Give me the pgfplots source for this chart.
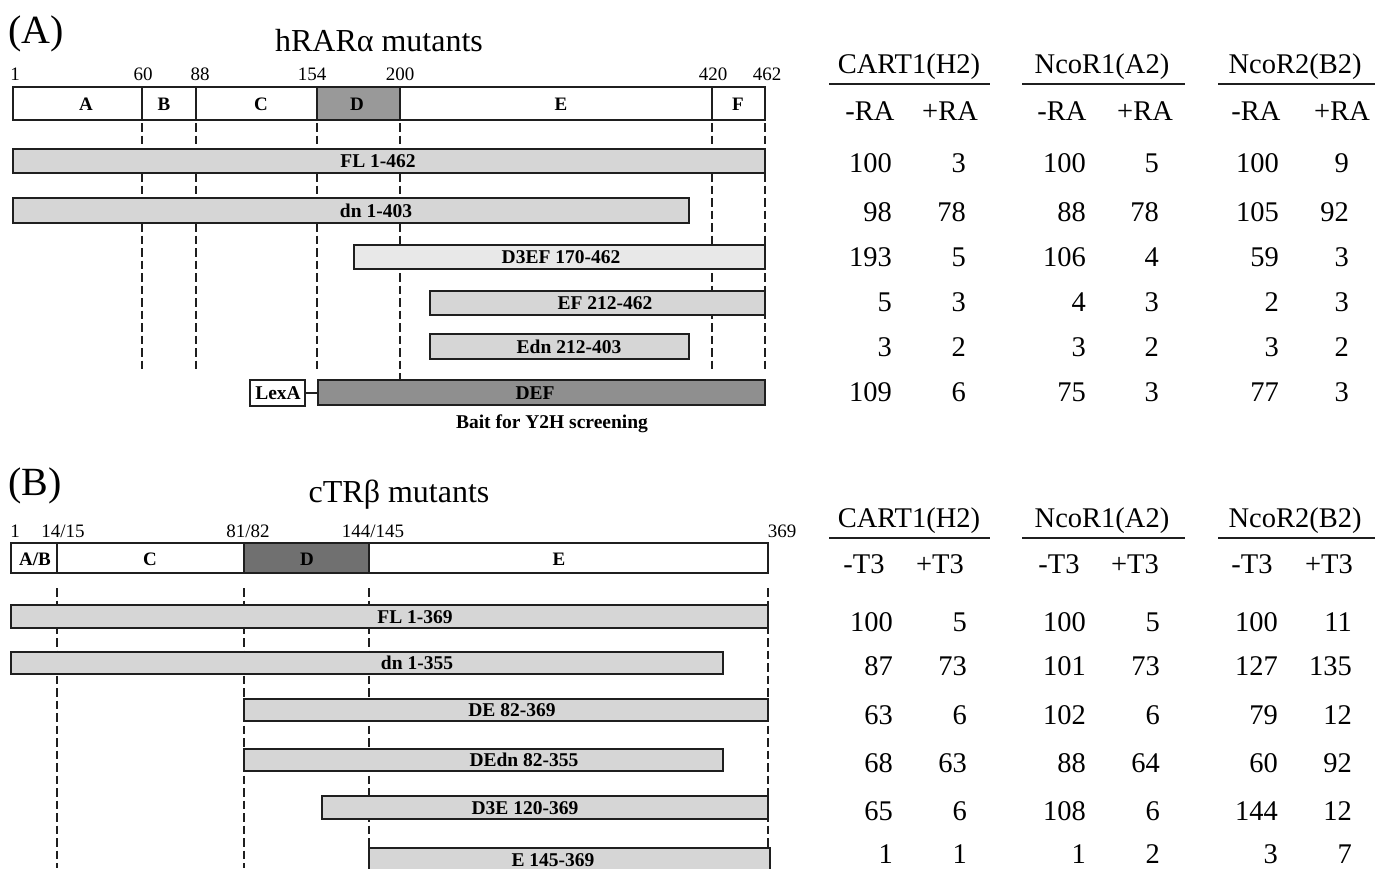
\documentclass[border=0pt]{standalone}
\usepackage{pgfplots}
\usepackage{pgfplotstable}
\pgfplotsset{compat=1.18}
\usepackage{fontspec}
\setmainfont{Liberation Serif}
\newcommand{\fs}[1]{\fontsize{#1}{#1}\selectfont}
\definecolor{edge}{gray}{0.12}
\definecolor{barlight}{gray}{0.84}
\definecolor{barlighter}{gray}{0.91}
\definecolor{dmid}{gray}{0.60}
\definecolor{ddef}{gray}{0.56}
\definecolor{ddark}{gray}{0.44}

\pgfplotstableread{
y c1 c2 c3 c4 c5 c6
172 100 3 100 5 100 9
221 98 78 88 78 105 92
266 193 5 106 4 59 3
311 5 3 4 3 2 3
356 3 2 3 2 3 2
401 109 6 75 3 77 3
}\tabA

\pgfplotstableread{
y c1 c2 c3 c4 c5 c6
631 100 5 100 5 100 11
675 87 73 101 73 127 135
724 63 6 102 6 79 12
772 68 63 88 64 60 92
820 65 6 108 6 144 12
863 1 1 1 2 3 7
}\tabB

\pgfplotsset{
  pbar/.style={draw=edge, line width=2.2pt, line join=miter},
  dsh/.style={draw=edge, line width=1.9pt, dash pattern=on 8.5pt off 4pt},
  numcol/.style={only marks, mark=none,
    point meta=explicit symbolic, nodes near coords,
    nodes near coords style={anchor=base east, inner sep=0pt, font=\fs{28.5}, text=black}},
}

\begin{document}
\begin{tikzpicture}
\path[use as bounding box] (0,0) rectangle (1375pt,868pt);
\clip (0,0) rectangle (1375pt,868pt);
\begin{axis}[at={(0pt,0pt)}, anchor=south west, width=1375pt, height=868pt,
  scale only axis, xmin=0, xmax=1375, ymin=0, ymax=868, y dir=reverse,
  hide axis, clip=false]

% ---------------- Panel A ----------------
\node[anchor=base west, inner sep=0pt, font=\fs{40}] at (axis cs:8,43) {(A)};
\node[anchor=base, inner sep=0pt, font=\fs{32}] at (axis cs:379,51) {hRARα mutants};

% position labels
\foreach \px/\lab in {15/1, 143/60, 200/88, 312/154, 400/200, 713/420, 767/462}
  {\edef\tmp{\noexpand\node[anchor=base, inner sep=0pt, font=\noexpand\fs{19}] at (axis cs:\px,80) {\lab};}\tmp}

% dashed guide lines
\addplot[dsh] coordinates {(142,123) (142,370)};
\addplot[dsh] coordinates {(196,123) (196,370)};
\addplot[dsh] coordinates {(317,123) (317,370)};
\addplot[dsh] coordinates {(400,123) (400,380)};
\addplot[dsh] coordinates {(712,123) (712,370)};
\addplot[dsh] coordinates {(765,123) (765,370)};

% domain map
\addplot[pbar, fill=white] coordinates {(13,87) (142,87) (142,120) (13,120)} -- cycle;
\addplot[pbar, fill=white] coordinates {(142,87) (196,87) (196,120) (142,120)} -- cycle;
\addplot[pbar, fill=white] coordinates {(196,87) (317,87) (317,120) (196,120)} -- cycle;
\addplot[pbar, fill=dmid]  coordinates {(317,87) (400,87) (400,120) (317,120)} -- cycle;
\addplot[pbar, fill=white] coordinates {(400,87) (712,87) (712,120) (400,120)} -- cycle;
\addplot[pbar, fill=white] coordinates {(712,87) (765,87) (765,120) (712,120)} -- cycle;
\foreach \px/\lab in {86/A, 164/B, 261/C, 357/D, 561/E, 738/F}
  {\edef\tmp{\noexpand\node[anchor=base, inner sep=0pt, font=\noexpand\fs{19}\noexpand\bfseries] at (axis cs:\px,110) {\lab};}\tmp}

% mutant bars
\addplot[pbar, fill=barlight] coordinates {(13,149) (765,149) (765,173) (13,173)} -- cycle;
\addplot[pbar, fill=barlight] coordinates {(13,198) (689,198) (689,223) (13,223)} -- cycle;
\addplot[pbar, fill=barlighter] coordinates {(354,245) (765,245) (765,269) (354,269)} -- cycle;
\addplot[pbar, fill=barlight] coordinates {(430,291) (765,291) (765,315) (430,315)} -- cycle;
\addplot[pbar, fill=barlight] coordinates {(430,334) (689,334) (689,359) (430,359)} -- cycle;
\addplot[pbar, fill=white] coordinates {(250,380) (305,380) (305,406) (250,406)} -- cycle;
\addplot[draw=edge, line width=2.2pt] coordinates {(305,393) (318,393)};
\addplot[pbar, fill=ddef] coordinates {(318,380) (765,380) (765,405) (318,405)} -- cycle;

\node[anchor=base, inner sep=0pt, font=\fs{19.5}\bfseries] at (axis cs:378,167.5) {FL 1-462};
\node[anchor=base, inner sep=0pt, font=\fs{19.5}\bfseries] at (axis cs:376,217) {dn 1-403};
\node[anchor=base, inner sep=0pt, font=\fs{19.5}\bfseries] at (axis cs:561,263.5) {D3EF 170-462};
\node[anchor=base, inner sep=0pt, font=\fs{19.5}\bfseries] at (axis cs:605,309.5) {EF 212-462};
\node[anchor=base, inner sep=0pt, font=\fs{19.5}\bfseries] at (axis cs:569,353) {Edn 212-403};
\node[anchor=base, inner sep=0pt, font=\fs{19.5}\bfseries] at (axis cs:278,399.5) {LexA};
\node[anchor=base, inner sep=0pt, font=\fs{19.5}\bfseries] at (axis cs:535,399) {DEF};
\node[anchor=base, inner sep=0pt, font=\fs{19.5}\bfseries] at (axis cs:552,428) {Bait for Y2H screening};

% table A
\node[anchor=base, inner sep=0pt, font=\fs{28.5}] at (axis cs:909,73) {CART1(H2)};
\node[anchor=base, inner sep=0pt, font=\fs{28.5}] at (axis cs:1102,73) {NcoR1(A2)};
\node[anchor=base, inner sep=0pt, font=\fs{28.5}] at (axis cs:1295,73) {NcoR2(B2)};
\addplot[draw=edge, line width=2.2pt] coordinates {(829,84) (990,84)};
\addplot[draw=edge, line width=2.2pt] coordinates {(1022,84) (1185,84)};
\addplot[draw=edge, line width=2.2pt] coordinates {(1218,84) (1375,84)};
\foreach \px/\lab in {870/-RA, 950/+RA, 1062/-RA, 1145/+RA, 1256/-RA, 1342/+RA}
  {\edef\tmp{\noexpand\node[anchor=base, inner sep=0pt, font=\noexpand\fs{28.5}] at (axis cs:\px,120) {\lab};}\tmp}

\addplot[numcol] table[x expr=892, y=y, meta=c1] {\tabA};
\addplot[numcol] table[x expr=966, y=y, meta=c2] {\tabA};
\addplot[numcol] table[x expr=1086, y=y, meta=c3] {\tabA};
\addplot[numcol] table[x expr=1159, y=y, meta=c4] {\tabA};
\addplot[numcol] table[x expr=1279, y=y, meta=c5] {\tabA};
\addplot[numcol] table[x expr=1349, y=y, meta=c6] {\tabA};

% ---------------- Panel B ----------------
\node[anchor=base west, inner sep=0pt, font=\fs{40}] at (axis cs:8,495) {(B)};
\node[anchor=base, inner sep=0pt, font=\fs{32}] at (axis cs:399,502) {cTRβ mutants};

\foreach \px/\lab in {15/1, 63/14\slash 15, 248/81\slash 82, 373/144\slash 145, 782/369}
  {\edef\tmp{\noexpand\node[anchor=base, inner sep=0pt, font=\noexpand\fs{19}] at (axis cs:\px,537) {\lab};}\tmp}

\addplot[dsh] coordinates {(57,588) (57,868)};
\addplot[dsh] coordinates {(244,588) (244,868)};
\addplot[dsh] coordinates {(369,588) (369,848)};
\addplot[dsh] coordinates {(768,588) (768,868)};

\addplot[pbar, fill=white] coordinates {(11,543) (57,543) (57,573) (11,573)} -- cycle;
\addplot[pbar, fill=white] coordinates {(57,543) (244,543) (244,573) (57,573)} -- cycle;
\addplot[pbar, fill=ddark] coordinates {(244,543) (369,543) (369,573) (244,573)} -- cycle;
\addplot[pbar, fill=white] coordinates {(369,543) (768,543) (768,573) (369,573)} -- cycle;
\foreach \px/\lab in {35/A\slash B, 150/C, 307/D, 559/E}
  {\edef\tmp{\noexpand\node[anchor=base, inner sep=0pt, font=\noexpand\fs{19}\noexpand\bfseries] at (axis cs:\px,565) {\lab};}\tmp}

\addplot[pbar, fill=barlight] coordinates {(11,605) (768,605) (768,628) (11,628)} -- cycle;
\addplot[pbar, fill=barlight] coordinates {(11,652) (723,652) (723,674) (11,674)} -- cycle;
\addplot[pbar, fill=barlight] coordinates {(244,699) (768,699) (768,721) (244,721)} -- cycle;
\addplot[pbar, fill=barlight] coordinates {(244,749) (723,749) (723,771) (244,771)} -- cycle;
\addplot[pbar, fill=barlight] coordinates {(322,796) (768,796) (768,819) (322,819)} -- cycle;
\addplot[pbar, fill=barlight] coordinates {(369,848) (770,848) (770,880) (369,880)} -- cycle;

\node[anchor=base, inner sep=0pt, font=\fs{19.5}\bfseries] at (axis cs:415,623) {FL 1-369};
\node[anchor=base, inner sep=0pt, font=\fs{19.5}\bfseries] at (axis cs:417,669.5) {dn 1-355};
\node[anchor=base, inner sep=0pt, font=\fs{19.5}\bfseries] at (axis cs:512,716.5) {DE 82-369};
\node[anchor=base, inner sep=0pt, font=\fs{19.5}\bfseries] at (axis cs:524,766.5) {DEdn 82-355};
\node[anchor=base, inner sep=0pt, font=\fs{19.5}\bfseries] at (axis cs:525,814) {D3E 120-369};
\node[anchor=base, inner sep=0pt, font=\fs{19.5}\bfseries] at (axis cs:553,866) {E 145-369};

% table B
\node[anchor=base, inner sep=0pt, font=\fs{28.5}] at (axis cs:909,527) {CART1(H2)};
\node[anchor=base, inner sep=0pt, font=\fs{28.5}] at (axis cs:1102,527) {NcoR1(A2)};
\node[anchor=base, inner sep=0pt, font=\fs{28.5}] at (axis cs:1295,527) {NcoR2(B2)};
\addplot[draw=edge, line width=2.2pt] coordinates {(829,538) (990,538)};
\addplot[draw=edge, line width=2.2pt] coordinates {(1022,538) (1185,538)};
\addplot[draw=edge, line width=2.2pt] coordinates {(1218,538) (1375,538)};
\foreach \px/\lab in {864/-T3, 940/+T3, 1059/-T3, 1135/+T3, 1252/-T3, 1329/+T3}
  {\edef\tmp{\noexpand\node[anchor=base, inner sep=0pt, font=\noexpand\fs{28.5}] at (axis cs:\px,573) {\lab};}\tmp}

\addplot[numcol] table[x expr=893, y=y, meta=c1] {\tabB};
\addplot[numcol] table[x expr=967, y=y, meta=c2] {\tabB};
\addplot[numcol] table[x expr=1086, y=y, meta=c3] {\tabB};
\addplot[numcol] table[x expr=1160, y=y, meta=c4] {\tabB};
\addplot[numcol] table[x expr=1278, y=y, meta=c5] {\tabB};
\addplot[numcol] table[x expr=1352, y=y, meta=c6] {\tabB};

\end{axis}
\end{tikzpicture}
\end{document}
